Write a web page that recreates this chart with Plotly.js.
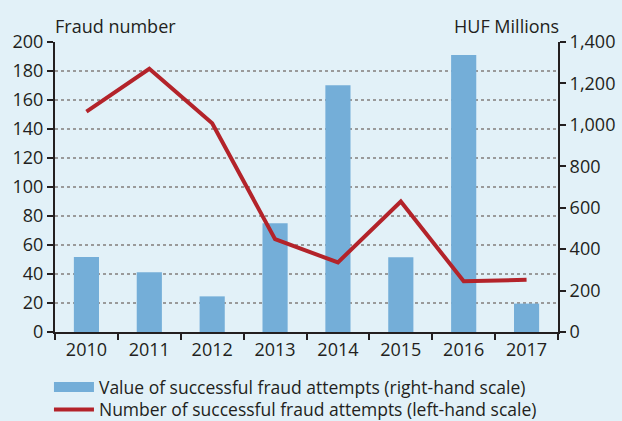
<!DOCTYPE html>
<html>
<head>
<meta charset="utf-8">
<script src="https://cdn.plot.ly/plotly-3.0.1.min.js"></script>
<style>html,body{margin:0;padding:0;background:#e2f1f8;}#chart{width:622px;height:421px;}</style>
</head>
<body>
<div id="chart"></div>
<script>
var years = ['2010', '2011', '2012', '2013', '2014', '2015', '2016', '2017'];
var valueHUF = [362, 288, 172, 525, 1191, 361, 1337, 137];
var fraudNumber = [152, 181.5, 144, 64, 48, 90, 35, 36];
var seriesNames = ['Value of successful fraud attempts (right-hand scale)', 'Number of successful fraud attempts (left-hand scale)'];
var axisTitles = ['Fraud number', 'HUF Millions'];

var barColor = '#74aed8';
var lineColor = '#b3232a';
var textFont = '"Open Sans", sans-serif';

var traces = [
  {type: 'bar', x: years, y: valueHUF, yaxis: 'y', marker: {color: barColor}, width: 0.4, showlegend: false, name: seriesNames[0]},
  {type: 'scatter', mode: 'lines', x: years, y: fraudNumber, yaxis: 'y2', line: {color: lineColor, width: 4}, showlegend: false, name: seriesNames[1]},
  {type: 'scatter', mode: 'lines', x: [null], y: [null], line: {color: barColor, width: 11}, name: seriesNames[0], showlegend: true, legend: 'legend'},
  {type: 'scatter', mode: 'lines', x: [null], y: [null], line: {color: lineColor, width: 4}, name: seriesNames[1], showlegend: true, legend: 'legend2'}
];

var legendBase = {xanchor: 'left', yanchor: 'middle', bgcolor: 'rgba(0,0,0,0)', itemwidth: 40, font: {size: 17.5, family: textFont}};

var layout = {
  width: 622, height: 421,
  paper_bgcolor: '#e2f1f8', plot_bgcolor: 'rgba(0,0,0,0)',
  font: {family: textFont, size: 18, color: '#231f20'},
  margin: {l: 55, r: 64, t: 42, b: 89, pad: 0, autoexpand: false},
  showlegend: true,
  legend: Object.assign({}, legendBase, {x: -0.012, y: -0.19}),
  legend2: Object.assign({}, legendBase, {x: -0.012, y: -0.268}),
  xaxis: {type: 'category', showline: true, linecolor: '#231f20', linewidth: 2, ticks: 'outside', tickson: 'boundaries', ticklen: 6, tickwidth: 2, tickcolor: '#231f20', showgrid: false, fixedrange: true},
  yaxis: {side: 'right', range: [0, 1400], dtick: 200, tickformat: ',', showline: true, linecolor: '#231f20', linewidth: 2, ticks: 'outside', ticklen: 6, tickwidth: 2, tickcolor: '#231f20', showgrid: false, zeroline: false},
  yaxis2: {side: 'left', overlaying: 'y', range: [0, 200], dtick: 20, showline: true, linecolor: '#231f20', linewidth: 2, ticks: 'outside', ticklen: 6, tickwidth: 2, tickcolor: '#231f20', showgrid: true, gridcolor: '#9a9a9a', gridwidth: 1.2, griddash: 'dot', zeroline: false},
  annotations: [
    {xref: 'paper', yref: 'paper', x: 0, y: 1, xanchor: 'left', yanchor: 'bottom', yshift: 2, xshift: -2, text: axisTitles[0], showarrow: false, font: {size: 18}},
    {xref: 'paper', yref: 'paper', x: 1, y: 1, xanchor: 'right', yanchor: 'bottom', yshift: 2, xshift: 3, text: axisTitles[1], showarrow: false, font: {size: 18}}
  ]
};

Plotly.newPlot('chart', traces, layout, {displayModeBar: false, staticPlot: true});
</script>
</body>
</html>
